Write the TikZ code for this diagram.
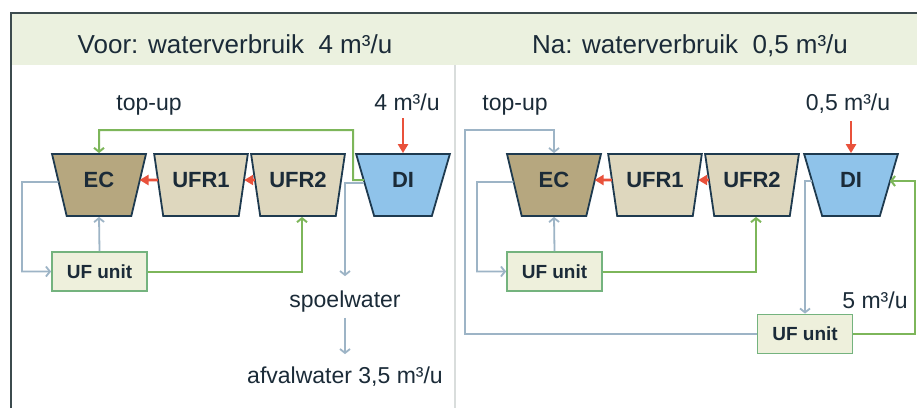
\documentclass[tikz,border=0pt]{standalone}
\usepackage{fontspec}
\setmainfont{Liberation Sans}
\usetikzlibrary{shapes.geometric,arrows.meta}
\definecolor{txt}{HTML}{1B2B38}
\definecolor{bandc}{HTML}{EBF1DF}
\definecolor{framec}{HTML}{3C4B4E}
\definecolor{outl}{HTML}{1E3A4F}
\definecolor{ecfill}{HTML}{B6A77F}
\definecolor{ufrfill}{HTML}{DED7BE}
\definecolor{difill}{HTML}{8FC3EA}
\definecolor{redc}{HTML}{E9513B}
\definecolor{grn}{HTML}{7DB65A}
\definecolor{boxgrn}{HTML}{74B37E}
\definecolor{gry}{HTML}{9DB4C6}
\definecolor{ufboxc}{HTML}{EEF0DC}
\definecolor{divc}{HTML}{D9DDDC}
\begin{document}
\begin{tikzpicture}[x=1pt,y=-1pt,
  tank/.style={trapezium, shape border rotate=180, trapezium angle=74.7,
    trapezium stretches=true, minimum width=94pt, minimum height=62pt,
    inner sep=0pt, draw=outl, line width=1.8pt, text=txt,
    font=\fontsize{22}{26}\selectfont\bfseries, text depth=10pt},
  ufbox/.style={draw=boxgrn, fill=ufboxc, line width=1.8pt, minimum width=95pt,
    minimum height=39pt, inner sep=0pt, text=txt, font=\fontsize{19}{23}\selectfont\bfseries},
  lbl/.style={text=txt, font=\fontsize{23}{27}\selectfont, inner sep=2pt, anchor=base},
  ttl/.style={text=txt, font=\fontsize{26}{30}\selectfont, inner sep=0pt, anchor=base},
  redarr/.style={draw=redc, line width=2.6pt, -{Triangle[length=9pt,width=10pt]}},
  grnarr/.style={draw=grn, line width=2pt, -{Straight Barb[length=4pt,width=10pt]}},
  gryarr/.style={draw=gry, line width=1.8pt, -{Straight Barb[length=4pt,width=10pt]}},
]
\useasboundingbox (0,0) rectangle (917,408);
% frame and title band
\fill[white] (0,0) rectangle (917,408);
\fill[bandc] (12,14) rectangle (917,65);
\draw[divc, line width=1.5pt] (455,65) -- (455,408);
\draw[framec, line width=2pt] (11,408) -- (11,13) -- (917,13);
\node[ttl] (t1) at (235,53) {Voor: waterverbruik\ \ 4 m³/u};
\node[ttl] (t2) at (690,53) {Na: waterverbruik\ \ 0,5 m³/u};

% ---------- left panel ----------
\node[tank, fill=ecfill]  (ECL)   at (99,185)  {EC};
\node[tank, fill=ufrfill] (UFR1L) at (201,185) {UFR1};
\node[tank, fill=ufrfill] (UFR2L) at (298,185) {UFR2};
\node[tank, fill=difill]  (DIL)   at (403,185) {DI};
\node[ufbox] (UFL) at (99.5,271.5) {UF unit};
\node[lbl] (topL) at (149,110) {top-up};
\node[lbl] (inL) at (407,110) {4 m³/u};
\node[lbl] (spoel) at (345,307) {spoelwater};
\node[lbl] (afval) at (345,383) {afvalwater 3,5 m³/u};

\draw[gryarr] ([yshift=3pt]ECL.west) -- (22,182) |- (UFL.west);
\draw[gryarr] (UFL.north) -- (ECL.south);
\draw[grnarr] (UFL.east) -| ([xshift=4pt]UFR2L.south);
\draw[gryarr, shorten >=12pt] ([yshift=2pt]DIL.west) -| (spoel.north);
\draw[gryarr, shorten <=4pt, shorten >=10pt] (spoel.south) -- (afval.north);
\draw[grnarr] ([yshift=5pt]DIL.west) -- (353,180) -- (353,130) -| (ECL.north);
\draw[redarr] ([yshift=5pt]UFR1L.west) -- ([yshift=5pt]ECL.east);
\draw[redarr] ([yshift=5pt]UFR2L.west) -- ([yshift=5pt]UFR1L.east);
\draw[redarr, shorten <=6pt] (DIL.north |- inL.south) -- (DIL.north);

% ---------- right panel ----------
\node[tank, fill=ecfill]  (ECR)   at (554,185) {EC};
\node[tank, fill=ufrfill] (UFR1R) at (655,185) {UFR1};
\node[tank, fill=ufrfill] (UFR2R) at (752,185) {UFR2};
\node[tank, fill=difill]  (DIR)   at (851,185) {DI};
\node[ufbox] (UFR) at (554.5,271.5) {UF unit};
\node[ufbox] (UFB) at (805,334) {UF unit};
\node[lbl] (topR) at (515,110) {top-up};
\node[lbl] (inR) at (848,110) {0,5 m³/u};
\node[lbl] (five) at (875,308) {5 m³/u};

\draw[gryarr] (UFB.west) -- (465,334) -- (465,130) -| (ECR.north);
\draw[gryarr] ([yshift=3pt]ECR.west) -- (477,182) |- (UFR.west);
\draw[gryarr] (UFR.north) -- (ECR.south);
\draw[grnarr] (UFR.east) -| ([xshift=4pt]UFR2R.south);
\draw[gryarr] ([yshift=4pt]DIR.west) -| (UFB.north);
\draw[grnarr] (UFB.east) -- (915,334) |- ([yshift=4pt]DIR.east);
\draw[redarr] ([yshift=5pt]UFR1R.west) -- ([yshift=5pt]ECR.east);
\draw[redarr] ([yshift=5pt]UFR2R.west) -- ([yshift=5pt]UFR1R.east);
\draw[redarr, shorten <=6pt] (DIR.north |- inR.south) -- (DIR.north);
\end{tikzpicture}
\end{document}
